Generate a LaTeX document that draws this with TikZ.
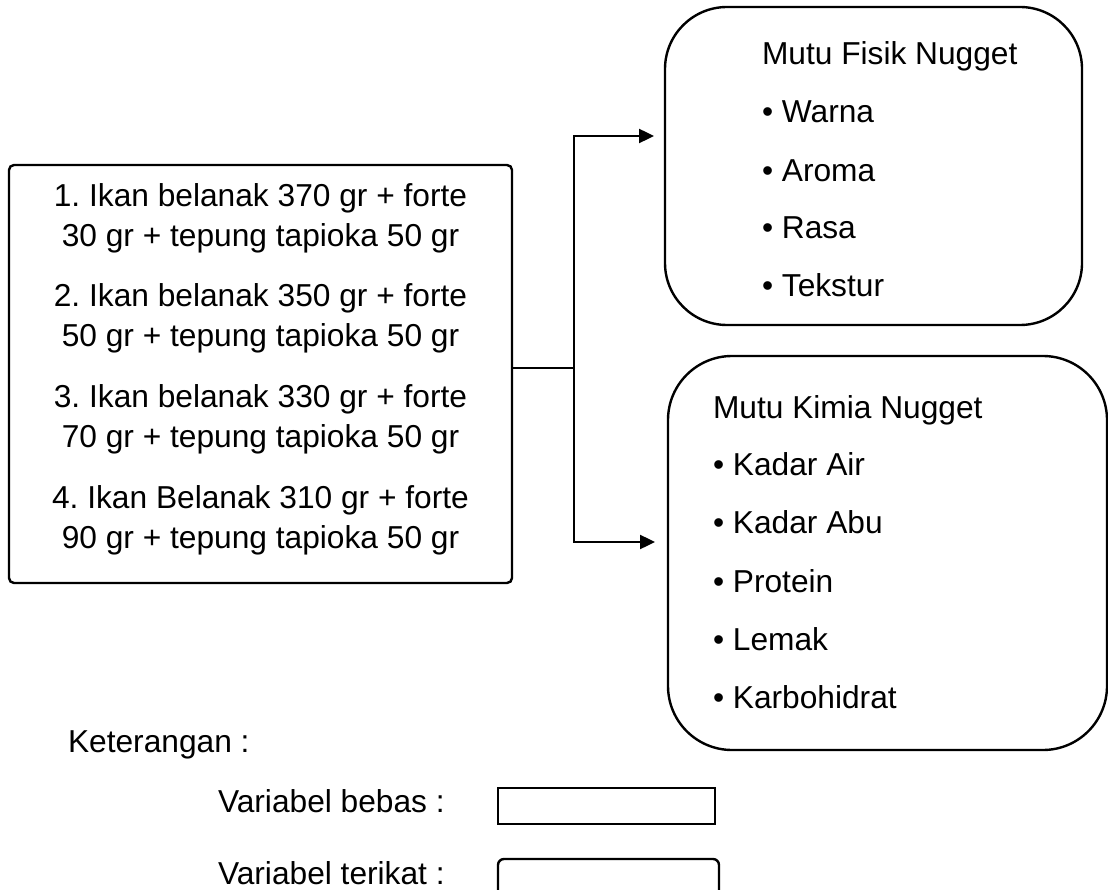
\documentclass[tikz,border=0pt]{standalone}
\usepackage{fontspec}
\setmainfont{Liberation Sans}
\usetikzlibrary{arrows.meta,calc}
\frenchspacing
\begin{document}
\begin{tikzpicture}[x=1pt,y=-1pt,
  boxline/.style={draw, line width=2.4pt, inner sep=0pt, outer sep=0pt},
  txt/.style={inner sep=0pt, outer sep=0pt, font=\fontsize{31.7}{38}\selectfont},
  link/.style={line width=2.4pt},
  arr/.style={link, -{Triangle[length=15pt,width=14pt]}}
]
\useasboundingbox (0,0) rectangle (1108,890);
\fill[white] (0,0) rectangle (1108,890);

% treatment box
\node[boxline, rounded corners=5pt, minimum width=503pt, minimum height=418pt] (treat) at (260.5,374) {};
\node[txt, anchor=base] (t1a) at (260.5,207) {1. Ikan belanak 370 gr + forte};
\node[txt, anchor=base] (t1b) at (260.5,247) {30 gr + tepung tapioka 50 gr};
\node[txt, anchor=base] (t2a) at (260.5,307) {2. Ikan belanak 350 gr + forte};
\node[txt, anchor=base] (t2b) at (260.5,347) {50 gr + tepung tapioka 50 gr};
\node[txt, anchor=base] (t3a) at (260.5,407) {3. Ikan belanak 330 gr + forte};
\node[txt, anchor=base] (t3b) at (260.5,447) {70 gr + tepung tapioka 50 gr};
\node[txt, anchor=base] (t4a) at (260.5,508) {4. Ikan Belanak 310 gr + forte};
\node[txt, anchor=base] (t4b) at (260.5,548) {90 gr + tepung tapioka 50 gr};

% physical quality box
\node[boxline, rounded corners=62pt, minimum width=417pt, minimum height=318pt] (fisik) at (873.5,166) {};
\node[txt, anchor=base west] (f0) at (762,65) {Mutu Fisik Nugget};
\node[txt, anchor=base west] (f1) at (762,123) {• Warna};
\node[txt, anchor=base west] (f2) at (762,182) {• Aroma};
\node[txt, anchor=base west] (f3) at (762,239) {• Rasa};
\node[txt, anchor=base west] (f4) at (762,297) {• Tekstur};

% chemical quality box
\node[boxline, rounded corners=64pt, minimum width=439pt, minimum height=394pt] (kimia) at (887.5,553) {};
\node[txt, anchor=base west] (k0) at (713,418) {Mutu Kimia Nugget};
\node[txt, anchor=base west] (k1) at (713,475) {• Kadar Air};
\node[txt, anchor=base west] (k2) at (713,533) {• Kadar Abu};
\node[txt, anchor=base west] (k3) at (713,592) {• Protein};
\node[txt, anchor=base west] (k4) at (713,650) {• Lemak};
\node[txt, anchor=base west] (k5) at (713,708) {• Karbohidrat};

% connectors
\coordinate (j) at (574,368);
\coordinate (jt) at (574,136);
\coordinate (jb) at (574,542);
\coordinate (at) at (654,136);
\coordinate (ab) at (655,542);
\draw[link] (treat.east |- j) -- (j);
\draw[arr] (j) -- (jt) -- (at);
\draw[arr] (j) -- (jb) -- (ab);

% legend
\node[txt, anchor=base west] (ket) at (68,752) {Keterangan :};
\node[txt, anchor=base west] (vb) at (218,812) {Variabel bebas :};
\node[txt, anchor=base west] (vt) at (218,884) {Variabel terikat :};
\node[boxline, minimum width=217pt, minimum height=36pt] (lb) at (606.5,806) {};
\node[boxline, rounded corners=6pt, minimum width=221pt, minimum height=42pt] (lt) at (608.5,880) {};
\end{tikzpicture}
\end{document}
